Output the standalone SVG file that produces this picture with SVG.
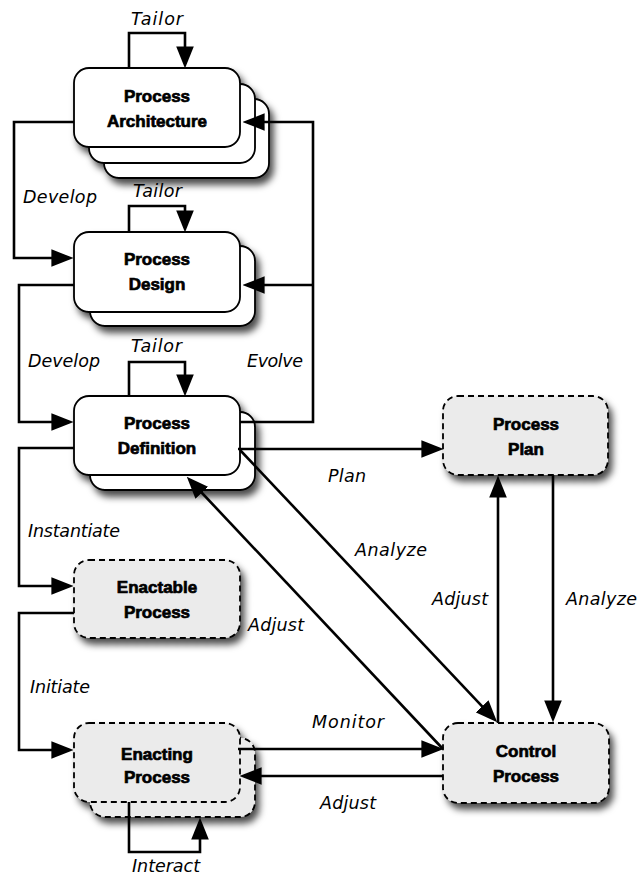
<svg xmlns="http://www.w3.org/2000/svg" width="638" height="877" viewBox="0 0 638 877">
  <defs>
    <filter id="shadow" x="-20%" y="-20%" width="150%" height="160%">
      <feDropShadow dx="4" dy="6" stdDeviation="3.5" flood-color="#000" flood-opacity="0.7"/>
    </filter>
    <marker id="arrow" markerUnits="userSpaceOnUse" markerWidth="22" markerHeight="18" viewBox="0 0 20 16" refX="16" refY="8" orient="auto">
      <path d="M0,0 L20,8 L0,16 z" fill="#000"/>
    </marker>
    <style>
      .box { fill: #fff; stroke: #000; stroke-width: 1.8; }
      .dash { fill: #ebebeb; stroke: #000; stroke-width: 1.8; stroke-dasharray: 6 4; }
      .title { font-family: "Liberation Sans", "DejaVu Sans", sans-serif; font-weight: bold; font-size: 17px; text-anchor: middle; fill: #000; stroke: #000; stroke-width: 0.7; }
      .lbl { font-family: "DejaVu Sans", "Liberation Sans", sans-serif; font-style: italic; font-size: 17.5px; fill: #000; }
      .conn { fill: none; stroke: #000; stroke-width: 2.6; }
      .conn path.a { marker-end: url(#arrow); }
    </style>
  </defs>

  <rect width="638" height="877" fill="#fff"/>

  <!-- Nodes -->
  <g id="process-architecture" filter="url(#shadow)">
    <rect class="box" x="104" y="99" width="165" height="79" rx="15"/>
    <rect class="box" x="89" y="84" width="166" height="79" rx="15"/>
    <rect class="box" x="74" y="68" width="166" height="79" rx="15"/>
  </g>
  <g id="process-architecture-text">
    <text class="title" x="157" y="102">Process</text>
    <text class="title" x="157" y="127">Architecture</text>
  </g>

  <g id="process-design" filter="url(#shadow)">
    <rect class="box" x="90" y="246" width="165" height="80" rx="15"/>
    <rect class="box" x="74" y="232" width="166" height="80" rx="15"/>
  </g>
  <g id="process-design-text">
    <text class="title" x="157" y="265">Process</text>
    <text class="title" x="157" y="290">Design</text>
  </g>

  <g id="process-definition" filter="url(#shadow)">
    <rect class="box" x="90" y="412" width="165" height="78" rx="15"/>
    <rect class="box" x="74" y="396" width="166" height="79" rx="15"/>
  </g>
  <g id="process-definition-text">
    <text class="title" x="157" y="429">Process</text>
    <text class="title" x="157" y="454">Definition</text>
  </g>

  <g id="enactable-process" filter="url(#shadow)">
    <rect class="dash" x="74" y="560" width="166" height="78" rx="15"/>
  </g>
  <g id="enactable-process-text">
    <text class="title" x="157" y="593">Enactable</text>
    <text class="title" x="157" y="618">Process</text>
  </g>

  <g id="enacting-process" filter="url(#shadow)">
    <rect class="dash" x="90" y="738" width="165" height="79" rx="15"/>
    <rect class="dash" x="74" y="723" width="166" height="79" rx="15"/>
  </g>
  <g id="enacting-process-text">
    <text class="title" x="157" y="760">Enacting</text>
    <text class="title" x="157" y="783">Process</text>
  </g>

  <g id="process-plan" filter="url(#shadow)">
    <rect class="dash" x="443" y="396" width="165" height="79" rx="15"/>
  </g>
  <g id="process-plan-text">
    <text class="title" x="526" y="430">Process</text>
    <text class="title" x="526" y="455">Plan</text>
  </g>

  <g id="control-process" filter="url(#shadow)">
    <rect class="dash" x="443" y="723" width="166" height="80" rx="15"/>
  </g>
  <g id="control-process-text">
    <text class="title" x="526" y="757">Control</text>
    <text class="title" x="526" y="782">Process</text>
  </g>

  <!-- Connectors -->
  <g id="connectors" class="conn">
    <path class="a" d="M129,68 V33 H185 V64"/>
    <path class="a" d="M129,232 V206 H185 V228"/>
    <path class="a" d="M129,396 V362 H185 V392"/>
    <path class="a" d="M74,122 H14 V258 H69"/>
    <path class="a" d="M74,285 H19 V422 H69"/>
    <path class="a" d="M240,422 H313 V122 H247"/>
    <path class="a" d="M313,285 H247"/>
    <path class="a" d="M74,448 H19 V586 H69"/>
    <path class="a" d="M74,613 H19 V750 H69"/>
    <path class="a" d="M129,802 V852 H200 V822"/>
    <path class="a" d="M238,749 H439"/>
    <path class="a" d="M443,776 H244"/>
    <path class="a" d="M238,449 H439"/>
    <path class="a" d="M240,450 L494.2,719.1"/>
    <path class="a" d="M443,749 L189.8,480"/>
    <path class="a" d="M498,723 V480"/>
    <path class="a" d="M553,475 V718"/>
  </g>

  <!-- Connector labels -->
  <g id="labels" class="lbl">
    <text x="131" y="25" textLength="52">Tailor</text>
    <text x="133" y="197" textLength="49">Tailor</text>
    <text x="131" y="352" textLength="51">Tailor</text>
    <text x="23" y="203" textLength="74">Develop</text>
    <text x="28" y="367" textLength="72">Develop</text>
    <text x="247" y="367" textLength="56">Evolve</text>
    <text x="328" y="482" textLength="38">Plan</text>
    <text x="355" y="556" textLength="72">Analyze</text>
    <text x="28" y="537" textLength="92">Instantiate</text>
    <text x="248" y="631" textLength="56">Adjust</text>
    <text x="432" y="605" textLength="56">Adjust</text>
    <text x="566" y="605" textLength="71">Analyze</text>
    <text x="30" y="693" textLength="60">Initiate</text>
    <text x="312" y="728" textLength="72">Monitor</text>
    <text x="320" y="809" textLength="56">Adjust</text>
    <text x="132" y="872" textLength="68">Interact</text>
  </g>
</svg>
